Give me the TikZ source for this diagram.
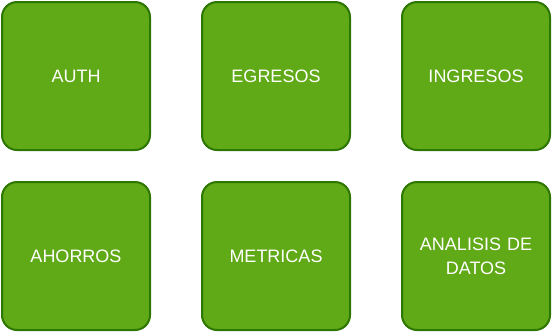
\documentclass[tikz,border=0pt]{standalone}
\usepackage{fontspec}
\setmainfont{Liberation Sans}
\usetikzlibrary{positioning}
\definecolor{boxfill}{HTML}{60A917}
\definecolor{boxline}{HTML}{2D7600}
\tikzset{
    module/.style={draw=boxline, fill=boxfill, line width=2pt, rounded corners=15pt,
        minimum width=148pt, minimum height=148pt, text=white, align=center,
        text width=130pt, font=\fontsize{18}{24}\selectfont}
}
\begin{document}
\begin{tikzpicture}[x=1pt, y=-1pt, node distance=180pt and 200pt, on grid]
        \useasboundingbox (0,0) rectangle (553,333);

        % first row
        \node[module] (auth) at (76,76) {AUTH};
        \node[module, right=of auth] (egresos) {EGRESOS};
        \node[module, right=of egresos] (ingresos) {INGRESOS};

        % second row
        \node[module, below=of auth] (ahorros) {AHORROS};
        \node[module, right=of ahorros] (metricas) {METRICAS};
        \node[module, right=of metricas] (analisis) {ANALISIS DE\\DATOS};

\end{tikzpicture}
\end{document}
